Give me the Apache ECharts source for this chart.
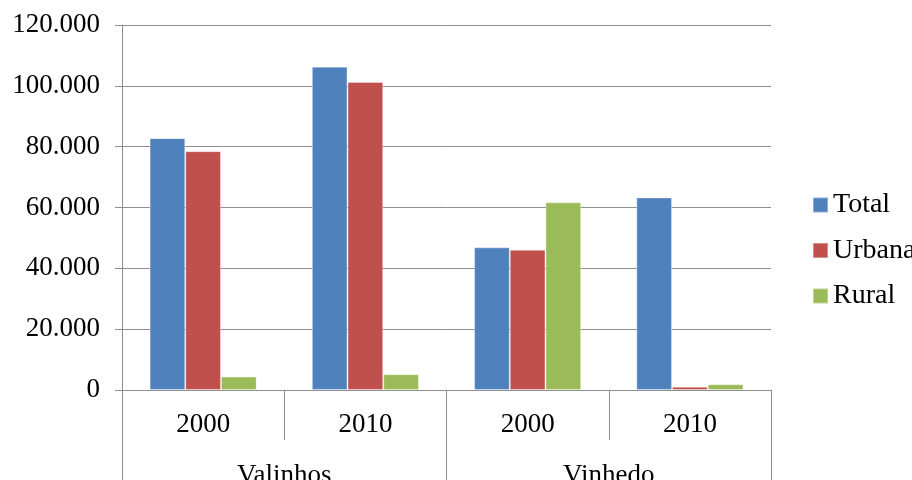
<!DOCTYPE html>
<html>
<head>
<meta charset="utf-8">
<script src="https://cdn.jsdelivr.net/npm/echarts@6/dist/echarts.min.js"></script>
<style>
  html, body { margin: 0; padding: 0; background: #fff; }
  #chart { width: 912px; height: 480px; }
</style>
</head>
<body>
<div id="chart"></div>
<script>
// year per bar group, and the city each pair of years belongs to
var years = ['2000', '2010', '2000', '2010']
var cities = ['Valinhos', 'Vinhedo']

var total = [82800, 106300, 46900, 63300]
var urbana = [78500, 101300, 46100, 1100]
var rural = [4400, 5200, 61700, 1900]

var chart = echarts.init(document.getElementById('chart'))
var font = 'Liberation Serif'
var gray = '#8f8f8f'

function bar (name, data, color) {
  return {
    name: name,
    type: 'bar',
    data: data,
    barGap: 0,
    barCategoryGap: '34%',
    itemStyle: { color: color, borderColor: 'rgba(255,255,255,0.35)', borderWidth: 1 }
  }
}

chart.setOption({
  animation: false,
  textStyle: { fontFamily: font },
  grid: { left: 122, right: 141, top: 25, bottom: 90, outerBoundsMode: 'none', containLabel: false },
  legend: {
    orient: 'vertical',
    left: 812,
    top: 190,
    padding: 0,
    itemWidth: 15,
    itemHeight: 15,
    itemGap: 15.5,
    icon: 'rect',
    textStyle: { fontFamily: font, fontSize: 28, color: '#000', lineHeight: 30 },
    data: ['Total', 'Urbana', 'Rural']
  },
  xAxis: [{
    type: 'category',
    data: years,
    axisLine: { lineStyle: { color: gray } },
    axisTick: { show: true, interval: 0, length: 50, lineStyle: { color: gray } },
    axisLabel: { fontFamily: font, fontSize: 27, color: '#000', margin: 21 }
  }, {
    type: 'category',
    data: cities,
    position: 'bottom',
    gridIndex: 0,
    axisLine: { show: false },
    axisTick: { show: true, interval: 0, length: 90, lineStyle: { color: gray } },
    axisLabel: { fontFamily: font, fontSize: 27, color: '#000', margin: 72 }
  }],
  yAxis: {
    type: 'value',
    min: 0,
    max: 120000,
    interval: 20000,
    axisLine: { show: true, lineStyle: { color: gray } },
    axisTick: { show: true, length: 7, lineStyle: { color: gray } },
    splitLine: { lineStyle: { color: gray } },
    axisLabel: {
      fontFamily: font,
      fontSize: 27,
      color: '#000',
      margin: 22,
      formatter: function (v) { return v === 0 ? '0' : (v / 1000).toFixed(3) }
    }
  },
  series: [
    bar('Total', total, '#4F81BD'),
    bar('Urbana', urbana, '#C0504D'),
    bar('Rural', rural, '#9BBB59')
  ]
})
</script>
</body>
</html>
